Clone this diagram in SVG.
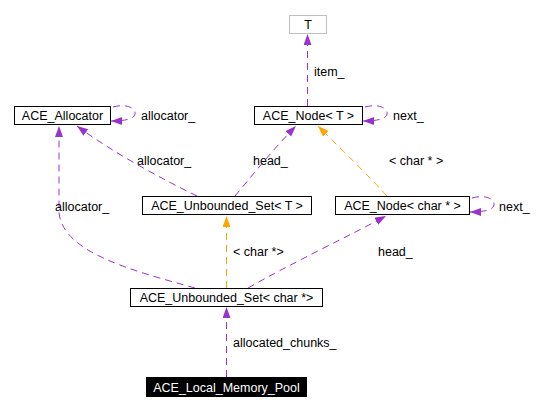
<svg xmlns="http://www.w3.org/2000/svg" width="549" height="411" viewBox="0 0 549 411">
<style>
text{font-family:"Liberation Sans",Arial,sans-serif;font-size:12.5px;fill:#000}
.n rect{fill:#fff;stroke:#000;stroke-width:1}
.n text{text-anchor:middle}
.p{fill:none;stroke:#9a32cd;stroke-width:1;stroke-dasharray:7,5}
.o{fill:none;stroke:#ffa500;stroke-width:1;stroke-dasharray:7,5}
</style>
<defs>
<marker id="ap" markerUnits="userSpaceOnUse" markerWidth="12" markerHeight="10" refX="11" refY="4" orient="auto"><path d="M0,0 L11,4 L0,8 z" fill="#9a32cd"/></marker>
<marker id="ao" markerUnits="userSpaceOnUse" markerWidth="12" markerHeight="10" refX="11" refY="4" orient="auto"><path d="M0,0 L11,4 L0,8 z" fill="#ffa500"/></marker>
</defs>
<rect width="549" height="411" fill="#fff"/>
<g id="edges">
<path class="p" d="M307.5,106 L307.5,34" marker-end="url(#ap)"/>
<path class="p" d="M113,107 C128,103 136,109 135,114 C134,119 125,121 111,121" marker-end="url(#ap)"/>
<path class="p" d="M365,107 C380,103 388,109 387,114 C386,119 377,121 363,121" marker-end="url(#ap)"/>
<path class="p" d="M472,198 C487,194 495,200 494,205 C493,210 484,212 470,212" marker-end="url(#ap)"/>
<path class="p" d="M197,196 C160,178 112,152 77,126" marker-end="url(#ap)"/>
<path class="p" d="M235,196 C255,172 276,146 296,126" marker-end="url(#ap)"/>
<path class="o" d="M387,196 C365,172 340,148 318,126" marker-end="url(#ao)"/>
<path class="p" d="M195,288 C130,270 62,252 59,212 L59,126" marker-end="url(#ap)"/>
<path class="o" d="M226.5,288 L226.5,216" marker-end="url(#ao)"/>
<path class="p" d="M248,288 C290,264 345,238 386,216" marker-end="url(#ap)"/>
<path class="p" d="M226.5,377 L226.5,307" marker-end="url(#ap)"/>
<text x="314" y="76">item_</text>
<text x="141" y="120">allocator_</text>
<text x="393" y="120">next_</text>
<text x="499" y="211">next_</text>
<text x="137" y="165">allocator_</text>
<text x="253" y="165">head_</text>
<text x="389" y="165">&lt; char * &gt;</text>
<text x="55" y="211">allocator_</text>
<text x="233" y="256">&lt; char *&gt;</text>
<text x="378" y="256">head_</text>
<text x="233" y="347">allocated_chunks_</text>
</g>
<g id="T" class="n"><rect x="289.5" y="15.5" width="37" height="18" style="stroke:#bfbfbf"/><text x="308" y="29">T</text></g>
<g id="ACE_Allocator" class="n"><rect x="14.5" y="106.5" width="96" height="18"/><text x="62.5" y="120">ACE_Allocator</text></g>
<g id="ACE_Node_T" class="n"><rect x="254.5" y="106.5" width="108" height="18"/><text x="308.5" y="120">ACE_Node&lt; T &gt;</text></g>
<g id="ACE_Unbounded_Set_T" class="n"><rect x="142.5" y="196.5" width="169" height="18"/><text x="227" y="210">ACE_Unbounded_Set&lt; T &gt;</text></g>
<g id="ACE_Node_charp" class="n"><rect x="335.5" y="196.5" width="134" height="18"/><text x="402.5" y="210">ACE_Node&lt; char * &gt;</text></g>
<g id="ACE_Unbounded_Set_charp" class="n"><rect x="130.5" y="288.5" width="192" height="18"/><text x="226.5" y="302">ACE_Unbounded_Set&lt; char *&gt;</text></g>
<g id="ACE_Local_Memory_Pool" class="n"><rect x="146.5" y="377.5" width="160" height="19" style="fill:#000"/><text x="226.5" y="392" style="fill:#fff">ACE_Local_Memory_Pool</text></g>
</svg>
